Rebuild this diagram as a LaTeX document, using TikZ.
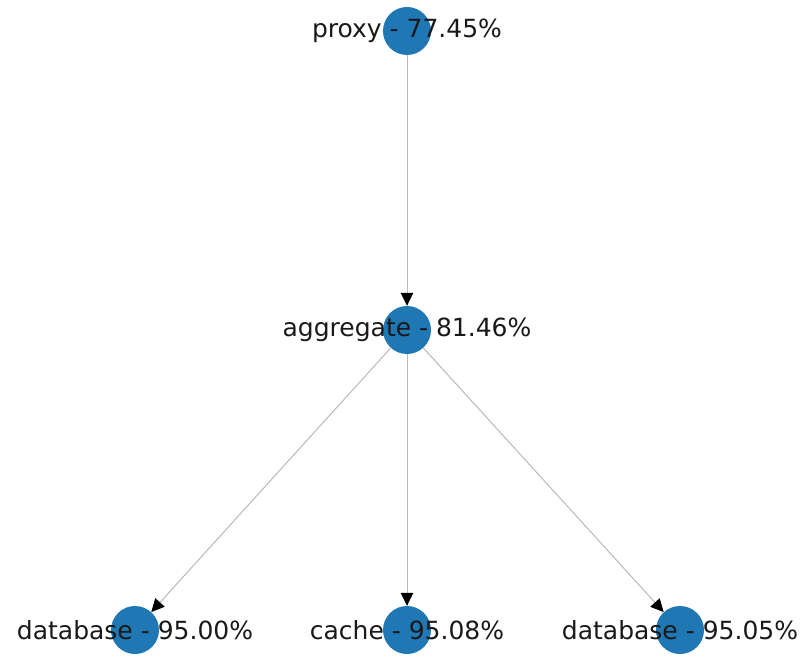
\documentclass[tikz,border=0pt]{standalone}
\usepackage{fontspec}
\setmainfont{DejaVu Sans}
\usepackage{xcolor}
\usetikzlibrary{arrows.meta}

\definecolor{nodeblue}{HTML}{1F77B4}
\definecolor{edgegray}{HTML}{B8B8B8}

\tikzset{
  svc/.style={circle,fill=nodeblue,draw=none,minimum size=48pt,inner sep=0pt},
  svclabel/.style={font=\fontsize{25}{29}\selectfont,text=black!90,inner sep=0pt},
  call/.style={draw=edgegray,line width=1pt,-{Triangle[length=13pt,width=12.5pt,color=black]}}
}

\begin{document}
\begin{tikzpicture}[x=1pt,y=-1pt]
    \useasboundingbox (0,0) rectangle (805,668);

    % Services
    \node[svc] (proxy) at (407,31) {};
    \node[svc] (aggregate) at (407,330) {};
    \node[svc] (dbleft) at (135,630) {};
    \node[svc] (cache) at (407,630) {};
    \node[svc] (dbright) at (680,630) {};

    % Calls
    \draw[call] (proxy) -- (aggregate);
    \draw[call] (aggregate) -- (dbleft);
    \draw[call] (aggregate) -- (cache);
    \draw[call] (aggregate) -- (dbright);

    % Labels
    \node[svclabel] (proxy-l) at (proxy) {proxy - 77.45\%};
    \node[svclabel] (aggregate-l) at (aggregate) {aggregate - 81.46\%};
    \node[svclabel] (dbleft-l) at (dbleft) {database - 95.00\%};
    \node[svclabel] (cache-l) at (cache) {cache - 95.08\%};
    \node[svclabel] (dbright-l) at (dbright) {database - 95.05\%};
\end{tikzpicture}
\end{document}
